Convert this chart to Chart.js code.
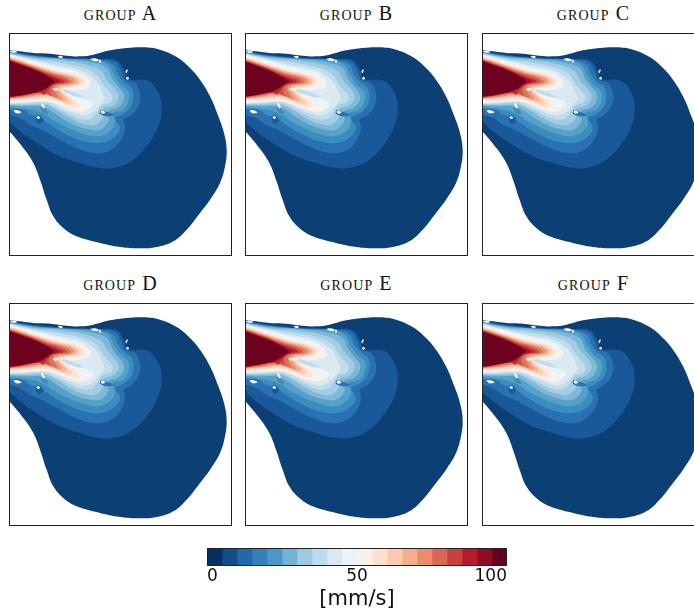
<!DOCTYPE html>
<html lang="en">
<head>
  <meta charset="UTF-8" />
  <title>Velocity by group</title>
  <script src="https://cdn.jsdelivr.net/npm/chart.js"></script>
  <style>
    html, body { margin: 0; padding: 0; background: #fff; width: 694px; height: 610px; overflow: hidden; }
    canvas { position: absolute; }
    .title {
      position: absolute; width: 223px; text-align: center; color: #111; letter-spacing: 1.1px;
      font-family: "Liberation Serif", serif; font-variant: small-caps; font-size: 20px; line-height: 24px;
    }
  </style>
</head>
<body>
<script>
  const groups = ['A', 'B', 'C', 'D', 'E', 'F'];
  const panelX = [9, 245, 482];
  const panelY = [33, 303];
  // how far the warm core reaches in each group, relative to the shared outlines
  const jetShift = [3, -6, 0, 0, -3, -3];

  // colour levels, 0 to 100 mm/s in 20 steps
  const plotColors = ['#0c3f74', '#1a5999', '#2a71b2', '#3b8dbe', '#57a0ca', '#7eb9d7', '#a2cde3', '#c1ddec', '#dbe9f2', '#eef3f5',
    '#f9f0eb', '#fce2d3', '#fbceb6', '#f6b394', '#ec9475', '#dd715a', '#cd4e44', '#bb2a34', '#9f1228', '#6d0220'];
  const barColors = ['#053061', '#144c88', '#2368ad', '#3580b9', '#4b98c6', '#75b3d4', '#9ccae1', '#bddbea', '#d9e9f2', '#edf2f5',
    '#f9f0ea', '#fce1d1', '#facab1', '#f5ae8d', '#e98c6f', '#d96753', '#c7423f', '#b41c2d', '#8f0d25', '#67001f'];
  const barStep = 5;

  // contour outlines, one per level
  const band0 = [[20,150],[60,155],[100,160],[150,162],[200,168],[240,170],[280,165],[330,152],[380,145],[430,143],[480,150],[530,172],[570,205],[600,240],[630,290],[655,350],[672,400],[680,450],[675,500],[660,550],[630,600],[600,640],[560,690],[520,725],[470,742],[420,746],[360,742],[300,730],[230,710],[190,685],[160,650],[140,600],[120,540],[100,490],[70,445],[20,385]];
  const band1 = [[20,152],[100,165],[200,174],[300,178],[350,182],[372,210],[385,238],[440,242],[470,270],[485,320],[475,380],[440,440],[400,480],[350,503],[300,505],[240,490],[170,465],[110,430],[60,395],[20,358]];
  const band2 = [[20,154],[100,168],[200,176],[300,180],[345,186],[365,215],[375,240],[405,250],[420,285],[415,320],[395,345],[372,360],[375,385],[360,425],[325,455],[280,460],[230,445],[180,420],[125,390],[90,375],[60,355],[20,342]];
  const band3 = [[20,156],[110,170],[200,177],[290,181],[340,195],[355,225],[370,245],[395,265],[400,295],[390,325],[365,345],[345,355],[360,385],[340,415],[300,430],[250,425],[200,405],[160,382],[130,362],[90,345],[40,330],[20,325]];
  const band4 = [[20,157],[100,170],[200,178],[290,183],[325,195],[345,230],[362,255],[385,275],[385,305],[370,330],[340,340],[345,370],[330,395],[295,410],[250,402],[205,385],[165,365],[135,345],[100,332],[60,326],[20,321]];
  const band5 = [[20,158],[100,172],[190,178],[270,188],[320,205],[335,235],[352,258],[370,280],[370,305],[352,325],[325,335],[325,365],[300,390],[260,388],[215,372],[180,352],[150,332],[120,320],[70,320],[20,318]];
  const band6 = [[20,159],[100,175],[190,183],[260,195],[305,215],[320,240],[340,262],[355,285],[352,305],[335,320],[310,328],[310,352],[285,375],[250,372],[215,358],[185,340],[160,325],[135,315],[110,315],[60,316],[20,315]];
  const band7 = [[20,160],[100,178],[180,190],[250,205],[290,225],[305,248],[322,270],[338,290],[332,308],[305,318],[292,340],[272,358],[240,358],[210,345],[180,330],[155,318],[130,310],[60,313],[20,313]];
  const band8 = [[20,162],[100,181],[170,197],[240,211],[280,235],[297,255],[308,280],[314,298],[300,315],[282,335],[252,348],[215,338],[185,325],[160,312],[130,306],[60,310],[20,311]];
  const band9 = [[20,164],[100,184],[170,202],[235,217],[262,235],[272,252],[262,266],[225,272],[190,272],[225,290],[262,300],[280,312],[268,328],[245,336],[215,330],[185,318],[160,308],[130,304],[60,308],[20,309]];
  const band10 = [[20,166],[60,177],[100,188],[160,208],[220,222],[255,235],[265,250],[250,262],[215,265],[185,272],[215,290],[245,310],[255,330],[230,332],[195,322],[165,310],[130,304],[80,306],[20,306]];
  const band11 = [[20,168],[60,179],[100,192],[160,211],[218,224],[245,235],[252,247],[240,258],[210,262],[182,270],[205,290],[228,308],[232,322],[205,320],[175,307],[140,298],[90,300],[20,303]];
  const band12 = [[20,170],[60,182],[100,195],[160,214],[212,226],[235,236],[241,246],[230,256],[205,259],[179,268],[195,288],[212,302],[214,314],[190,310],[160,297],[130,293],[90,296],[20,301]];
  const band13 = [[20,172],[60,185],[100,198],[160,217],[206,228],[226,237],[232,246],[222,254],[198,257],[175,266],[184,284],[198,297],[198,306],[178,302],[150,291],[125,289],[90,293],[20,299]];
  const band14 = [[20,174],[60,187],[100,200],[155,219],[200,230],[218,238],[222,246],[212,253],[192,255],[170,262],[174,280],[184,293],[182,300],[162,294],[140,286],[118,286],[85,291],[20,297]];
  const band15 = [[20,176],[60,189],[100,203],[150,221],[192,232],[208,240],[212,246],[202,252],[184,253],[164,258],[160,270],[168,286],[170,294],[152,288],[130,282],[110,283],[80,289],[20,296]];
  const band16 = [[20,178],[60,191],[100,205],[150,224],[185,235],[198,241],[201,247],[190,251],[176,252],[158,256],[148,268],[150,284],[155,290],[135,282],[118,279],[100,281],[75,287],[20,295]];
  const band17 = [[20,179],[60,193],[100,207],[145,226],[178,238],[188,243],[190,247],[178,250],[160,254],[148,262],[135,278],[130,285],[115,278],[95,280],[70,286],[20,294]];
  const band18 = [[20,180],[60,195],[100,209],[140,228],[170,240],[178,245],[165,250],[150,255],[135,268],[118,277],[90,281],[65,286],[20,293]];
  const band19 = [[20,181],[60,196],[100,211],[135,227],[155,240],[160,246],[148,256],[130,268],[110,276],[70,285],[20,292]];
  const coldBands = [band0, band1, band2, band3, band4, band5, band6, band7, band8, band9];
  const warmBands = [band10, band11, band12, band13, band14, band15, band16, band17, band18, band19];

  // slow wakes behind the leaflets, [colour level, outline]
  const wakes = [
    [7, [[175,264],[205,272],[236,284],[250,292],[228,291],[205,284],[178,275],[175,264]]],
    [2, [[100,355],[115,345],[132,360],[130,375],[112,378],[100,355]]],
    [1, [[106,358],[118,350],[128,364],[115,373],[106,358]]],
    [2, [[38,330],[60,328],[82,338],[75,348],[48,346],[38,330]]],
    [3, [[120,322],[135,327],[145,342],[130,340],[120,322]]],
    [2, [[300,332],[320,336],[342,346],[320,350],[300,342],[300,332]]]
  ];

  // gaps in the domain where the leaflets sit
  const holes = [
    [[28,154],[40,153],[52,157],[40,159],[28,154]],
    [[82,185],[90,183],[95,187],[88,191],[82,185]],
    [[172,170],[181,168],[189,172],[181,175],[172,170]],
    [[270,178],[284,176],[297,181],[284,184],[270,178]],
    [[297,181],[301,180],[303,187],[299,189],[297,181]],
    [[376,216],[381,209],[383,212],[379,221],[376,216]],
    [[378,235],[383,231],[387,236],[382,240],[378,235]],
    [[157,268],[167,264],[177,268],[167,273],[157,268]],
    [[123,313],[127,310],[134,322],[130,326],[123,313]],
    [[40,333],[50,331],[64,338],[50,341],[40,333]],
    [[109,353],[115,350],[120,354],[115,358],[109,353]],
    [[301,336],[308,333],[316,338],[308,342],[301,336]]
  ];

  function contourDataset(pts, color, dx) {
    return {
      data: pts.map(p => ({ x: p[0] + (dx || 0), y: p[1] })),
      backgroundColor: color, borderWidth: 0, pointRadius: 0, showLine: true, tension: 0.4, fill: false
    };
  }

  // fills each closed outline along the path of its line element
  const contourFill = {
    id: 'contourFill',
    beforeDatasetDraw(chart, args) {
      const el = args.meta.dataset;
      const area = chart.chartArea;
      const ctx = chart.ctx;
      el.updateControlPoints(area);
      ctx.save();
      ctx.beginPath();
      ctx.rect(area.left, area.top, area.right - area.left, area.bottom - area.top);
      ctx.clip();
      ctx.beginPath();
      el.path(ctx);
      ctx.closePath();
      ctx.fillStyle = el.options.backgroundColor;
      ctx.fill();
      ctx.restore();
    }
  };

  const frame = {
    id: 'frame',
    afterDraw(chart) {
      const a = chart.chartArea;
      const ctx = chart.ctx;
      ctx.save();
      ctx.strokeStyle = '#222';
      ctx.lineWidth = 1;
      ctx.strokeRect(Math.round(a.left) + 0.5, Math.round(a.top) + 0.5, Math.round(a.right - a.left) - 1, Math.round(a.bottom - a.top) - 1);
      ctx.restore();
    }
  };

  function addCanvas(left, top, w, h) {
    const c = document.createElement('canvas');
    c.width = w;
    c.height = h;
    c.style.left = left + 'px';
    c.style.top = top + 'px';
    c.style.width = w + 'px';
    c.style.height = h + 'px';
    document.body.appendChild(c);
    return c;
  }

  groups.forEach((g, i) => {
    const left = panelX[i % 3];
    const top = panelY[Math.floor(i / 3)];

    const title = document.createElement('div');
    title.className = 'title';
    title.textContent = 'group ' + g;
    title.style.left = left + 'px';
    title.style.top = (top - 32) + 'px';
    document.body.appendChild(title);

    const datasets = [];
    coldBands.forEach((b, k) => datasets.push(contourDataset(b, plotColors[k])));
    wakes.forEach(w => datasets.push(contourDataset(w[1], plotColors[w[0]])));
    warmBands.forEach((b, k) => datasets.push(contourDataset(b, plotColors[k + 10], jetShift[i])));
    holes.forEach(h => datasets.push(contourDataset(h, '#ffffff')));
    datasets.forEach((d, k) => { d.order = datasets.length - k; });

    new Chart(addCanvas(left, top, 223, 223), {
      type: 'scatter',
      data: { datasets },
      plugins: [contourFill, frame],
      options: {
        responsive: false,
        animation: false,
        events: [],
        plugins: { legend: { display: false }, tooltip: { enabled: false } },
        scales: {
          x: { type: 'linear', display: false, min: 27, max: 696 },
          y: { type: 'linear', display: false, min: 100, max: 769, reverse: true }
        }
      }
    });
  });

  // colour bar
  new Chart(addCanvas(187, 548, 340, 64), {
    type: 'bar',
    data: {
      labels: ['mm/s'],
      datasets: barColors.map(c => ({ data: [barStep], backgroundColor: c, borderWidth: 0, barPercentage: 1, categoryPercentage: 1 }))
    },
    plugins: [frame],
    options: {
      indexAxis: 'y',
      responsive: false,
      animation: false,
      events: [],
      layout: { padding: { left: 20, right: 20 } },
      plugins: { legend: { display: false }, tooltip: { enabled: false } },
      scales: {
        x: {
          stacked: true,
          min: 0,
          max: 100,
          afterFit(scale) { scale.height = 46; },
          grid: { display: false, drawTicks: false },
          border: { display: false },
          ticks: { stepSize: 50, align: 'inner', maxRotation: 0, padding: 0, color: '#111', font: { family: 'DejaVu Sans', size: 17 } },
          title: { display: true, text: '[mm/s]', color: '#111', padding: 0, font: { family: 'DejaVu Sans', size: 21 } }
        },
        y: { stacked: true, display: false }
      }
    }
  });
</script>
</body>
</html>
